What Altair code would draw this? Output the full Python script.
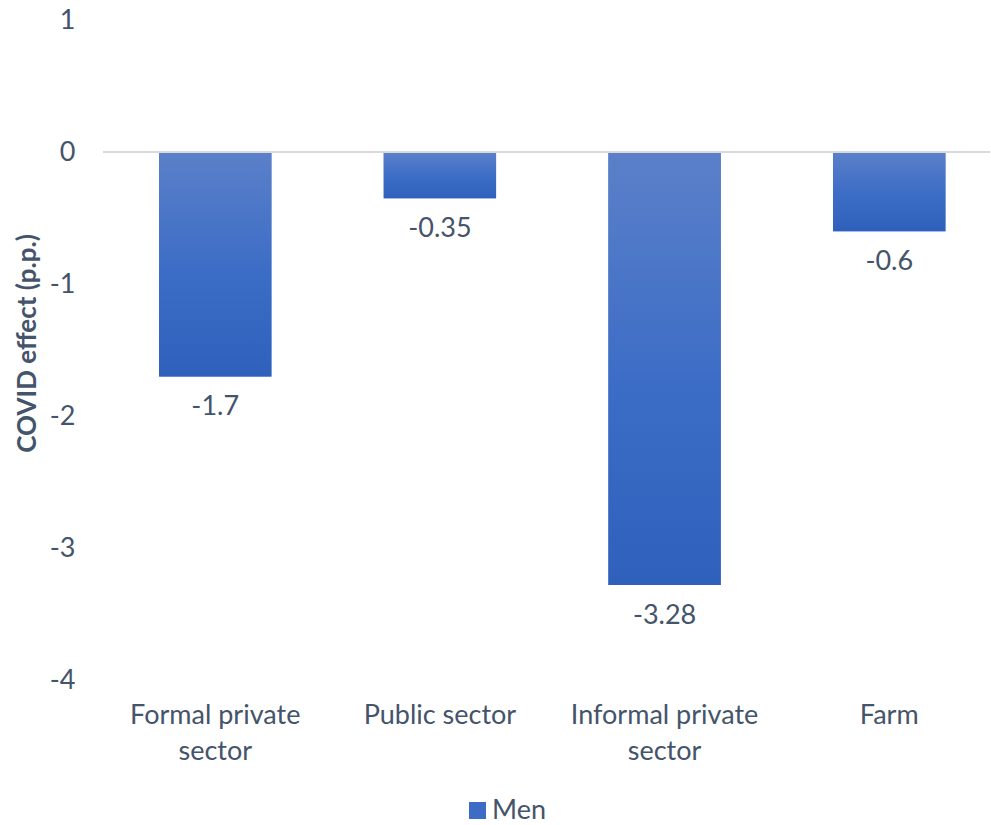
import altair as alt
import pandas as pd

categories = ["Formal private sector", "Public sector", "Informal private sector", "Farm"]
label_lines = [["Formal private", "sector"], ["Public sector"], ["Informal private", "sector"], ["Farm"]]
values = [-1.7, -0.35, -3.28, -0.6]
value_text = ["-1.7", "-0.35", "-3.28", "-0.6"]
series = "Men"
y_ticks = [1, 0, -1, -2, -3, -4]

df = pd.DataFrame({"category": categories, "value": values, "label": value_text, "series": [series] * len(categories)})

TXT = "#44546A"
FONT = "Lato"
FS = 27

expr_parts = []
for c, lines in zip(categories, label_lines):
    arr = "[" + ",".join("'" + l + "'" for l in lines) + "]"
    expr_parts.append(f"datum.label == '{c}' ? {arr}")
label_expr = " : ".join(expr_parts) + " : datum.label"

x = alt.X("category:N", sort=categories, title=None,
          scale=alt.Scale(paddingInner=0.5, paddingOuter=0.224, align=0.557),
          axis=alt.Axis(labelAngle=0, ticks=False, domain=False, labelFontSize=FS, labelColor=TXT,
                        labelFont=FONT, labelPadding=22, labelLineHeight=36, labelExpr=label_expr,
                        labelLimit=400))
y = alt.Y("value:Q", scale=alt.Scale(domain=[-4, 1], nice=False),
          axis=alt.Axis(values=y_ticks, grid=False, domain=False, ticks=False, labelFontSize=FS,
                        labelColor=TXT, labelFont=FONT, labelPadding=28,
                        labelExpr="'' + datum.value",
                        title="COVID effect (p.p.)", titleFontSize=26, titleFont=FONT, titleColor=TXT,
                        titleFontWeight="bold", titleX=-76, titleY=323, titleBaseline="middle"))

base = alt.Chart(df)

legend_bars = base.mark_bar().encode(
    x=x, y=y,
    color=alt.Color("series:N", scale=alt.Scale(domain=[series], range=["#3D6CC6"]),
                    legend=alt.Legend(title=None, orient="none", direction="horizontal",
                                      legendX=361, legendY=777, padding=0,
                                      symbolType="square", symbolSize=289, labelFontSize=FS,
                                      labelFont=FONT, labelColor=TXT, symbolStrokeWidth=0,
                                      labelOffset=1))
)

grad = alt.LinearGradient(gradient="linear", x1=0, x2=0, y1=0, y2=1,
                          stops=[alt.GradientStop(color="#5B80C9", offset=0),
                                 alt.GradientStop(color="#3B6CC6", offset=0.55),
                                 alt.GradientStop(color="#2F60BB", offset=1)])
bars = base.mark_bar(color=grad).encode(x=x, y=y)

zero = base.mark_rule(color="#D9D9D9", strokeWidth=2).encode(y=alt.datum(0))

labels = base.mark_text(fontSize=FS, font=FONT, color=TXT, baseline="middle", dy=31).encode(
    x=x, y=y, text="label:N")

chart = alt.layer(legend_bars, bars, zero, labels).properties(
    width=887, height=660,
    autosize=alt.AutoSizeParams(type="none"),
    padding={"left": 103, "top": 20, "right": 1, "bottom": 145},
).configure_view(stroke=None)

chart.save("out.html", embed_options={"renderer": "svg", "actions": False})
